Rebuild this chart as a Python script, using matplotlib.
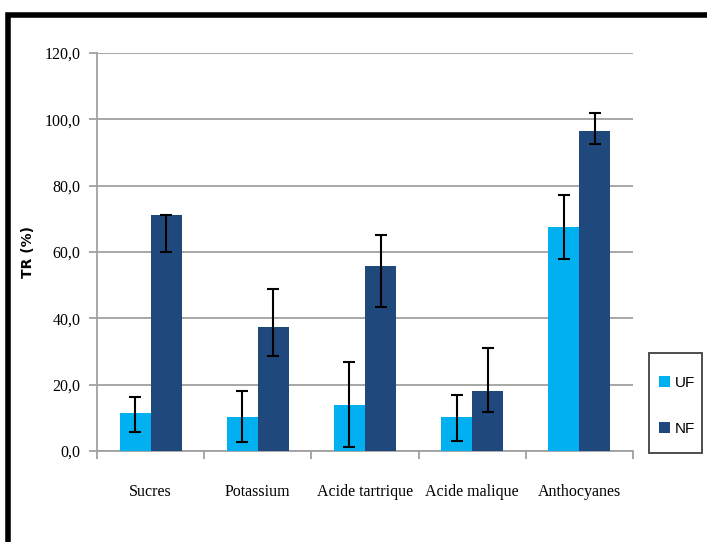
import matplotlib
matplotlib.use("Agg")
import matplotlib.pyplot as plt
import numpy as np
from matplotlib.patches import Rectangle, Patch
from matplotlib.ticker import FixedLocator, FuncFormatter

categories = ["Sucres", "Potassium", "Acide tartrique", "Acide malique", "Anthocyanes"]
uf_values = [11.5, 10.2, 13.9, 10.2, 67.6]
uf_err_low = [5.8, 7.6, 12.6, 7.1, 9.6]
uf_err_high = [4.8, 7.9, 12.8, 6.6, 9.5]
nf_values = [71.3, 37.4, 55.9, 18.2, 96.5]
nf_err_low = [11.4, 8.9, 12.6, 6.4, 3.8]
nf_err_high = [0.0, 11.5, 9.1, 12.8, 5.3]
series_labels = ["UF", "NF"]
y_ticks = [0, 20, 40, 60, 80, 100, 120]

uf_color = "#00B0F0"
nf_color = "#1F497D"

fig = plt.figure(figsize=(7.07, 5.42), dpi=100)
ax = fig.add_axes([0.1372, 0.1679, 0.7581, 0.7343])

x = np.arange(len(categories))
w = 0.29
ekw = dict(ecolor="black", elinewidth=1.5, capsize=4, capthick=1.5)
ax.bar(x - w / 2, uf_values, w, color=uf_color, yerr=[uf_err_low, uf_err_high],
       error_kw=ekw, zorder=3)
ax.bar(x + w / 2, nf_values, w, color=nf_color, yerr=[nf_err_low, nf_err_high],
       error_kw=ekw, zorder=3)

ax.set_xlim(-0.5, len(categories) - 0.5)
ax.set_ylim(0, 120)
ax.set_yticks(y_ticks)
ax.yaxis.set_major_formatter(FuncFormatter(lambda v, p: f"{v:.1f}".replace(".", ",")))
ax.yaxis.grid(True, color="#A0A0A0", linewidth=1.3, zorder=0)
ax.set_axisbelow(True)

ax.set_xticks(x)
ax.set_xticklabels(categories, fontfamily="Liberation Serif", fontsize=11.5)
ax.tick_params(axis="x", which="major", length=0, pad=24)
ax.xaxis.set_minor_locator(FixedLocator(np.arange(-0.5, len(categories), 1.0)))
ax.tick_params(axis="x", which="minor", length=6, color="#A0A0A0", width=1.3)
ax.tick_params(axis="y", length=6, color="#A0A0A0", width=1.3, pad=6)
for lab in ax.get_yticklabels():
    lab.set_fontfamily("Liberation Serif")
    lab.set_fontsize(11.5)

for s in ["top", "right"]:
    ax.spines[s].set_visible(False)
for s in ["left", "bottom"]:
    ax.spines[s].set_color("#A0A0A0")
    ax.spines[s].set_linewidth(1.3)

ax.set_ylabel("TR (%)", fontfamily="DejaVu Sans", fontweight="bold", fontsize=10, labelpad=7)

handles = [Patch(facecolor=uf_color), Patch(facecolor=nf_color)]
leg = fig.legend(handles, series_labels, loc="center",
                 bbox_to_anchor=(677 / 707, 1 - 406 / 542),
                 handlelength=0.7, handleheight=0.7, labelspacing=2.1,
                 handletextpad=0.35, borderpad=0, borderaxespad=0,
                 frameon=False,
                 prop={"family": "Liberation Sans", "size": 11})

# legend frame
fig.patches.append(Rectangle((649 / 707, 1 - 453 / 542), 53 / 707, 100 / 542,
                             transform=fig.transFigure, fill=False,
                             edgecolor="#404040", linewidth=1.3))

# outer chart frame
fig.patches.append(Rectangle((8 / 707, -0.1), 1.2, 1 - 15 / 542 + 0.1,
                             transform=fig.transFigure, fill=False,
                             edgecolor="black", linewidth=4))

fig.savefig("out.png", dpi=100)
